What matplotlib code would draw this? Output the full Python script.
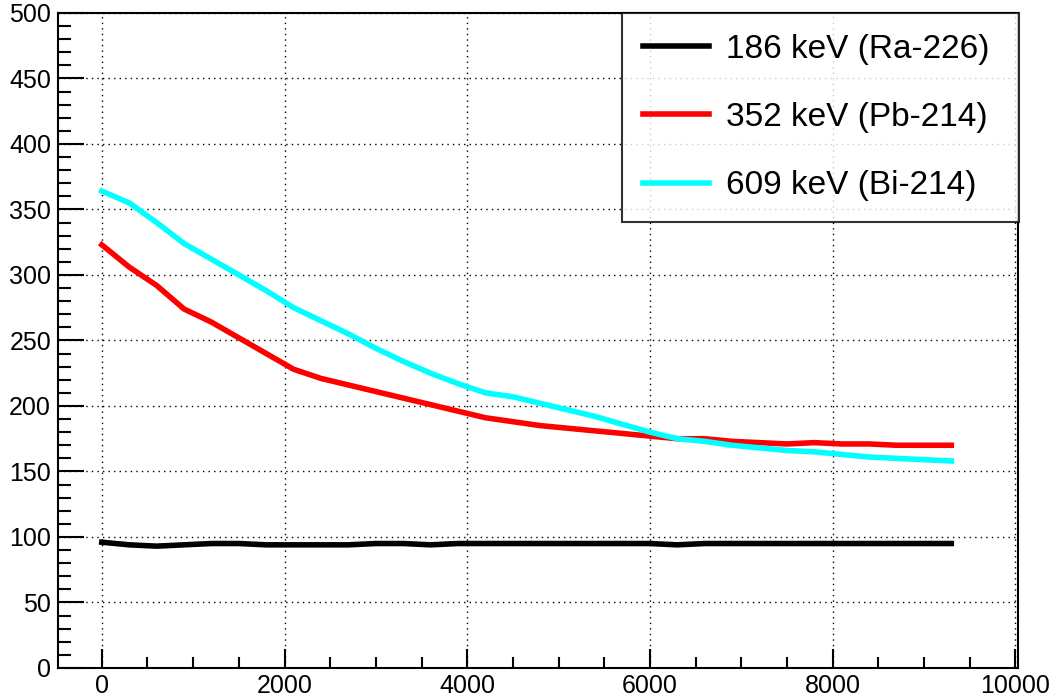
import matplotlib
matplotlib.use("Agg")
import matplotlib.pyplot as plt
from matplotlib.ticker import MultipleLocator

plt.rcParams['font.family'] = ['Liberation Sans', 'DejaVu Sans']

# datos
tiempo = [0, 300, 600, 900, 1200, 1500, 1800, 2100, 2400, 2700, 3000, 3300,
          3600, 3900, 4200, 4500, 4800, 5100, 5400, 5700, 6000, 6300, 6600,
          6900, 7200, 7500, 7800, 8100, 8400, 8700, 9000, 9300]
ra226 = [96, 94, 93, 94, 95, 95, 94, 94, 94, 94, 95, 95, 94, 95, 95, 95,
         95, 95, 95, 95, 95, 94, 95, 95, 95, 95, 95, 95, 95, 95, 95, 95]
pb214 = [323, 306, 292, 274, 264, 252, 240, 228, 221, 216, 211, 206, 201,
         196, 191, 188, 185, 183, 181, 179, 177, 175, 175, 173, 172, 171,
         172, 171, 171, 170, 170, 170]
bi214 = [364, 355, 340, 324, 312, 300, 288, 275, 265, 255, 244, 234, 225,
         217, 210, 207, 202, 197, 192, 186, 180, 175, 173, 170, 168, 166,
         165, 163, 161, 160, 159, 158]
etiquetas = ["186 keV (Ra-226)", "352 keV (Pb-214)", "609 keV (Bi-214)"]

fig = plt.figure(figsize=(10.56, 6.98), dpi=100)
ax = fig.add_axes([0.0549, 0.043, 0.9091, 0.9385])

ax.plot(tiempo, ra226, color="black", lw=4, label=etiquetas[0])
ax.plot(tiempo, pb214, color="#ff0000", lw=4, label=etiquetas[1])
ax.plot(tiempo, bi214, color="#00ffff", lw=4, label=etiquetas[2])

ax.set_xlim(-480, 10030)
ax.set_ylim(0, 500)
ax.xaxis.set_major_locator(MultipleLocator(2000))
ax.xaxis.set_minor_locator(MultipleLocator(500))
ax.yaxis.set_major_locator(MultipleLocator(50))
ax.yaxis.set_minor_locator(MultipleLocator(10))
ax.grid(True, which="major", color="black", linestyle=(0, (1, 3)), linewidth=1)

ax.tick_params(axis="both", which="both", direction="in", labelsize=18,
               top=False, right=False, width=1.5)
ax.tick_params(axis="y", which="major", length=19, pad=5)
ax.tick_params(axis="y", which="minor", length=9.5)
ax.tick_params(axis="x", which="major", length=14, pad=4)
ax.tick_params(axis="x", which="minor", length=8)
for s in ax.spines.values():
    s.set_linewidth(1.5)

# caja de la leyenda: 622..1019 px en x, 13..218 px en y
x0, x1 = 622 / 1056, 1019 / 1056
y0, y1 = 1 - 218 / 698, 1 - 13 / 698
leg = fig.legend(loc="upper left", bbox_to_anchor=(x0, y0, x1 - x0, y1 - y0),
                 mode="expand", fontsize=24, frameon=True, fancybox=False,
                 edgecolor="black", handlelength=2.0, handletextpad=0.5,
                 labelspacing=1.12, borderpad=0.62, borderaxespad=0)
leg.get_frame().set_linewidth(1.5)
for h in leg.get_lines():
    h.set_linewidth(4)

fig.savefig("out.png", dpi=100)
